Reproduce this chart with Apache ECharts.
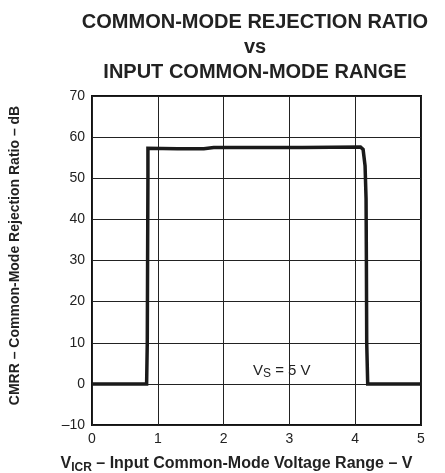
<!DOCTYPE html>
<html>
<head>
<meta charset="utf-8">
<script src="https://cdn.jsdelivr.net/npm/echarts@6/dist/echarts.min.js"></script>
<style>
  html, body { margin: 0; padding: 0; background: #fff; }
  #chart-container { width: 445px; height: 473px; }
</style>
</head>
<body>
<div id="chart-container"></div>
<script>
// CMRR curve (V, dB)
var vicr = [0, 0.83, 0.84, 0.845, 0.85, 0.85, 1.3, 1.7, 1.85, 3.2, 4.08, 4.12, 4.15, 4.165, 4.17, 4.175, 4.19, 5];
var cmrr = [0, 0, 10, 30, 50, 57.3, 57.2, 57.2, 57.5, 57.5, 57.6, 57, 53, 45, 30, 10, 0, 0];
var xTicks = [0, 1, 2, 3, 4, 5];
var yTicks = [-10, 0, 10, 20, 30, 40, 50, 60, 70];

var dom = document.getElementById('chart-container');
var myChart = echarts.init(dom, null, { renderer: 'canvas' });

var pts = vicr.map(function (v, i) { return [v, cmrr[i]]; });
var font = 'Liberation Sans, Arial, sans-serif';

var option = {
  animation: false,
  backgroundColor: '#fff',
  title: [
    {
      text: 'COMMON-MODE REJECTION RATIO\nvs\nINPUT COMMON-MODE RANGE',
      left: 250, top: 5, textAlign: 'center',
      textStyle: { fontFamily: font, fontSize: 20, fontWeight: 'bold', color: '#222', lineHeight: 25 }
    },
    {
      text: '{n|V}{s|S}{n| = 5 V}',
      left: 248, top: 356,
      textStyle: {
        fontWeight: 'normal',
        rich: {
          n: { fontFamily: font, fontSize: 15, fontWeight: 'normal', color: '#222' },
          s: { fontFamily: font, fontSize: 12, fontWeight: 'normal', color: '#222', verticalAlign: 'bottom', padding: [7, 0, 0, 0] }
        }
      }
    }
  ],
  grid: {
    left: 92, right: 24, top: 96, bottom: 48,
    containLabel: false, outerBoundsMode: 'none',
    show: true, borderColor: '#111', borderWidth: 2
  },
  xAxis: {
    type: 'value', min: 0, max: 5, interval: 1,
    name: '{n|V}{s|ICR}{n| – Input Common-Mode Voltage Range – V}',
    nameLocation: 'middle', nameGap: 29,
    nameTextStyle: {
      padding: [0, 40, 0, 0],
      rich: {
        n: { fontFamily: font, fontSize: 16, fontWeight: 'bold', color: '#222' },
        s: { fontFamily: font, fontSize: 12, fontWeight: 'bold', color: '#222', verticalAlign: 'bottom', padding: [8, 0, 0, 0] }
      }
    },
    axisLine: { show: false },
    axisTick: { show: false },
    axisLabel: {
      fontFamily: font, fontSize: 14, color: '#222', margin: 7,
      formatter: function (v) { return xTicks.indexOf(v) >= 0 ? String(v) : ''; }
    },
    splitLine: { show: true, lineStyle: { color: '#222', width: 1 } }
  },
  yAxis: {
    type: 'value', min: -10, max: 70, interval: 10,
    name: 'CMRR – Common-Mode Rejection Ratio – dB',
    nameLocation: 'middle', nameGap: 70,
    nameTextStyle: { fontFamily: font, fontSize: 14, fontWeight: 'bold', color: '#222', padding: [0, 0, 0, 10] },
    axisLine: { show: false },
    axisTick: { show: false },
    axisLabel: {
      fontFamily: font, fontSize: 14, color: '#222', margin: 7,
      formatter: function (v) { return yTicks.indexOf(v) >= 0 ? String(v).replace('-', '–') : ''; }
    },
    splitLine: { show: true, lineStyle: { color: '#222', width: 1 } }
  },
  series: [
    {
      type: 'line',
      data: pts,
      showSymbol: false,
      lineStyle: { color: '#1a1a1a', width: 3.5, join: 'miter' }
    }
  ]
};

myChart.setOption(option);
window.addEventListener('resize', myChart.resize);
</script>
</body>
</html>
